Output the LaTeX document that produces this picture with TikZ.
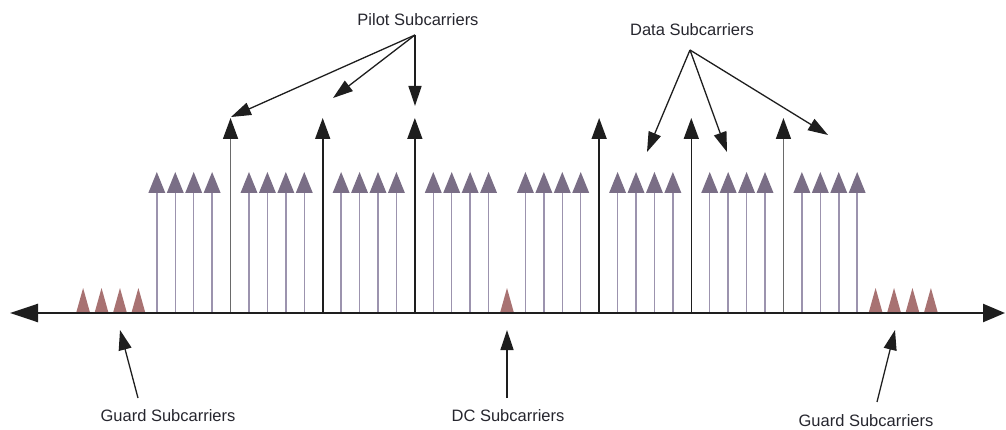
\documentclass[tikz,border=0pt]{standalone}
\usepackage{fontspec}
\setmainfont{Liberation Sans}
\usetikzlibrary{arrows.meta}
\definecolor{datastem}{HTML}{9C93AE}
\definecolor{datatip}{HTML}{7A6E86}
\definecolor{guardcol}{HTML}{A87272}
\definecolor{inkcol}{HTML}{1E1E1E}
\definecolor{pilotgrey}{HTML}{6A6A6A}
\definecolor{txtcol}{HTML}{26262E}
\begin{document}
\begin{tikzpicture}[x=1pt,y=-1pt,
  lbl/.style={text=txtcol, font=\fontsize{16.5}{19}\selectfont, inner sep=0pt},
  ann/.style={draw=inkcol, line width=1.3pt, -{Triangle[length=20pt,width=13pt]}},
  datastyle/.style={draw=datastem, line width=1.5pt},
  pilotstyle/.style={line width=1.6pt, -{Triangle[length=21pt,width=15pt,color=inkcol]}},
  axisstyle/.style={draw=inkcol, line width=2.4pt, {Triangle[length=28pt,width=18pt]}-{Triangle[length=22pt,width=18pt]}}
]
\useasboundingbox (0,0) rectangle (1006,430);
\foreach \k in {-23,...,23}{
  \pgfmathsetmacro\xx{507+18.43*\k}
  \pgfmathtruncatemacro\ak{abs(\k)}
  \pgfmathtruncatemacro\md{mod(\ak,5)}
  \coordinate (base\k) at (\xx,313);
  \ifnum\ak>19
    \fill[guardcol] (\xx-7,313) -- (\xx,288) -- (\xx+7,313) -- cycle;
  \else
    \ifnum\ak=0
      \fill[guardcol] (\xx-7,313) -- (\xx,288) -- (\xx+7,313) -- cycle;
    \else
      \ifnum\md=0
        \coordinate (top\k) at (\xx,118);
        \ifnum\ak=15
          \draw[pilotstyle, draw=pilotgrey] (base\k) -- (top\k);
        \else
          \draw[pilotstyle, draw=inkcol] (base\k) -- (top\k);
        \fi
      \else
        \coordinate (top\k) at (\xx,193);
        \draw[datastyle] (base\k) -- (top\k);
        \fill[datatip] (\xx-8.5,193) -- (\xx,172) -- (\xx+8.5,193) -- cycle;
      \fi
    \fi
  \fi
}
\coordinate (axl) at (10,313);
\coordinate (axr) at (1005,313);
\draw[axisstyle] (axl) -- (axr);

% Pilot label
\node[lbl] (pilotlbl) at (418,20) {Pilot Subcarriers};
\coordinate (pilotsrc) at (415,35);
\coordinate (pt1) at (231,117);
\coordinate (pt2) at (333,98);
\coordinate (pt3) at (415,106);
\draw[ann] (pilotsrc) -- (pt1);
\draw[ann] (pilotsrc) -- (pt2);
\draw[ann] (pilotsrc) -- (pt3);

% Data label
\node[lbl] (datalbl) at (692,30) {Data Subcarriers};
\coordinate (datasrc) at (690,50);
\coordinate (dt1) at (647,152);
\coordinate (dt2) at (727,152);
\coordinate (dt3) at (828,135);
\draw[ann] (datasrc) -- (dt1);
\draw[ann] (datasrc) -- (dt2);
\draw[ann] (datasrc) -- (dt3);

% Bottom labels
\node[lbl] (guardl) at (168,416) {Guard Subcarriers};
\coordinate (gls) at (138,398);
\coordinate (glt) at (120,330);
\draw[ann] (gls) -- (glt);

\node[lbl] (dclbl) at (508,416) {DC Subcarriers};
\coordinate (dcs) at (507,398);
\coordinate (dct) at (507,330);
\draw[ann] (dcs) -- (dct);

\node[lbl] (guardr) at (866,421) {Guard Subcarriers};
\coordinate (grs) at (877,402);
\coordinate (grt) at (895,330);
\draw[ann] (grs) -- (grt);
\end{tikzpicture}
\end{document}
